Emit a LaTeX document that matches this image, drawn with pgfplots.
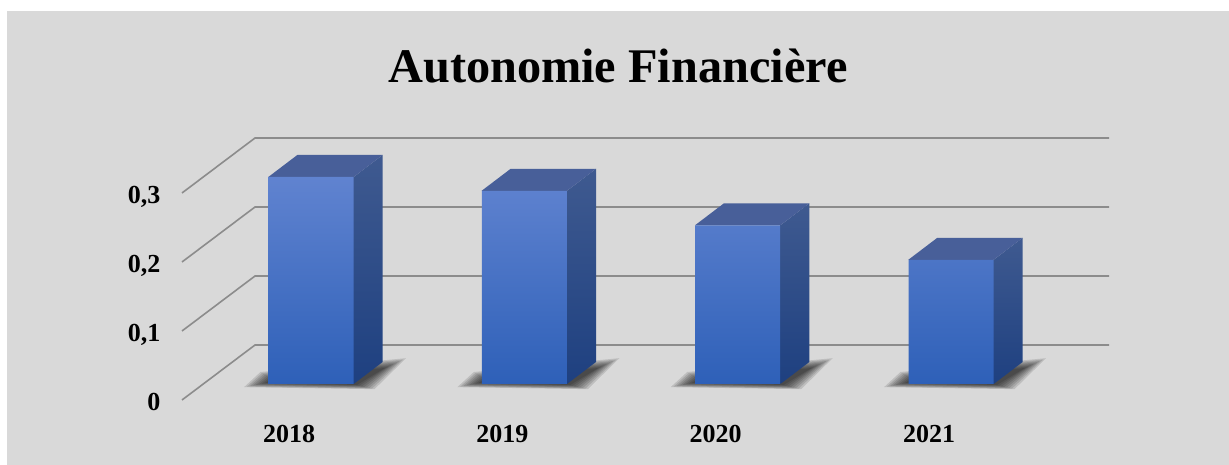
\documentclass[border=0pt]{standalone}
\usepackage{pgfplots}
\pgfplotsset{compat=1.18}
\usepackage{pgfplotstable}
\usepackage{fontspec}
\setmainfont{Liberation Serif}
\definecolor{bg}{HTML}{D9D9D9}
\definecolor{gridc}{HTML}{8C8C8C}
\definecolor{ftop}{HTML}{6083D0}
\definecolor{fmid}{HTML}{3C6BC6}
\definecolor{fbot}{HTML}{2E60B8}
\definecolor{stop}{HTML}{3F5A90}
\definecolor{sbot}{HTML}{1E4080}
\definecolor{ttop}{HTML}{485F99}
\pgfplotstableread{
x v
0 0.30
1 0.28
2 0.23
3 0.18
}\barvalues
\pgfplotstableread{
xa ya xb yb xc yc xd yd xe ye xf yf xg yg xh yh
-.3141 -.0046 -.3 -.0038 -.2859 -.0029 -.2719 -.002 -.2578 -.0012 -.2438 -.0003 -.2297 .0006 -.2156 .0014
-.2367 .0174 -.2297 .0159 -.2227 .0145 -.2156 .013 -.2086 .0116 -.2016 .0101 -.1945 .0087 -.1875 .0072
.4453 .0374 .4313 .0354 .4172 .0333 .4031 .0313 .3891 .0293 .375 .0272 .3609 .0252 .3469 .0232
.2977 -.0075 .2859 -.0067 .2742 -.0058 .2625 -.0049 .2508 -.0041 .2391 -.0032 .2273 -.0023 .2156 -.0014
}\shadowshape
\pgfplotsset{shad/.style={fill=black, fill opacity=.12, draw=none, no marks}}
\begin{document}
\begin{tikzpicture}
\fill[white] (-182pt,-65pt) rectangle (1047pt,400pt);
\fill[bg] (-175pt,-65pt) rectangle (1047pt,389pt);
\begin{axis}[
  at={(0pt,0pt)}, anchor=south west,
  scale only axis, width=927pt, height=262pt,
  xmin=-0.6047, xmax=3.7406, ymin=-0.0232, ymax=0.3565,
  clip=false,
  axis line style={draw=none},
  tick style={draw=none},
  xtick={-0.103,0.897,1.897,2.897},
  xticklabels={2018,2019,2020,2021},
  ytick={-0.0232,0.0768,0.1768,0.2768},
  yticklabels={0,{0,1},{0,2},{0,3}},
  typeset ticklabels with strut,
  tick label style={font=\fontsize{26}{30}\selectfont\bfseries},
  xticklabel style={yshift=-18pt},
  yticklabel style={xshift=-18pt, yshift=-4.5pt},
  title={Autonomie Financière},
  title style={at={(axis description cs:.4703,1.2519)}, anchor=center, font=\fontsize{48.3}{50}\selectfont\bfseries},
]
% gridlines
\addplot[gridc, line width=1.6pt, no marks] coordinates {(-.6047,-.0232) (-.2625,.0565) (3.7406,.0565)};
\addplot[gridc, line width=1.6pt, no marks] coordinates {(-.6047,.0768) (-.2625,.1565) (3.7406,.1565)};
\addplot[gridc, line width=1.6pt, no marks] coordinates {(-.6047,.1768) (-.2625,.2565) (3.7406,.2565)};
\addplot[gridc, line width=1.6pt, no marks] coordinates {(-.6047,.2768) (-.2625,.3565) (3.7406,.3565)};
% shadows
\pgfplotsinvokeforeach{0,1,2,3}{
  \addplot[shad] table[x expr=\thisrow{xa}+#1, y=ya] {\shadowshape} -- cycle;
  \addplot[shad] table[x expr=\thisrow{xb}+#1, y=yb] {\shadowshape} -- cycle;
  \addplot[shad] table[x expr=\thisrow{xc}+#1, y=yc] {\shadowshape} -- cycle;
  \addplot[shad] table[x expr=\thisrow{xd}+#1, y=yd] {\shadowshape} -- cycle;
  \addplot[shad] table[x expr=\thisrow{xe}+#1, y=ye] {\shadowshape} -- cycle;
  \addplot[shad] table[x expr=\thisrow{xf}+#1, y=yf] {\shadowshape} -- cycle;
  \addplot[shad] table[x expr=\thisrow{xg}+#1, y=yg] {\shadowshape} -- cycle;
  \addplot[shad] table[x expr=\thisrow{xh}+#1, y=yh] {\shadowshape} -- cycle;
}
% side faces
\addplot[top color=stop, bottom color=sbot, draw=none, no marks] coordinates {(.2,0) (.336,.0319) (.336,.3319) (.2,.30)} -- cycle;
\addplot[top color=stop, bottom color=sbot, draw=none, no marks] coordinates {(1.2,0) (1.336,.0319) (1.336,.3119) (1.2,.28)} -- cycle;
\addplot[top color=stop, bottom color=sbot, draw=none, no marks] coordinates {(2.2,0) (2.336,.0319) (2.336,.2619) (2.2,.23)} -- cycle;
\addplot[top color=stop, bottom color=sbot, draw=none, no marks] coordinates {(3.2,0) (3.336,.0319) (3.336,.2119) (3.2,.18)} -- cycle;
% top faces
\addplot[fill=ttop, draw=none, no marks] coordinates {(-.2,.30) (.2,.30) (.336,.3319) (-.064,.3319)} -- cycle;
\addplot[fill=ttop, draw=none, no marks] coordinates {(.8,.28) (1.2,.28) (1.336,.3119) (.936,.3119)} -- cycle;
\addplot[fill=ttop, draw=none, no marks] coordinates {(1.8,.23) (2.2,.23) (2.336,.2619) (1.936,.2619)} -- cycle;
\addplot[fill=ttop, draw=none, no marks] coordinates {(2.8,.18) (3.2,.18) (3.336,.2119) (2.936,.2119)} -- cycle;
% front faces
\addplot[ybar, bar width=85pt, bar shift=0pt, draw=none, top color=ftop, middle color=fmid, bottom color=fbot] table[x=x, y=v] {\barvalues};
\end{axis}
\path[use as bounding box] (-182pt,-65pt) rectangle (1047pt,400pt);
\end{tikzpicture}
\end{document}
